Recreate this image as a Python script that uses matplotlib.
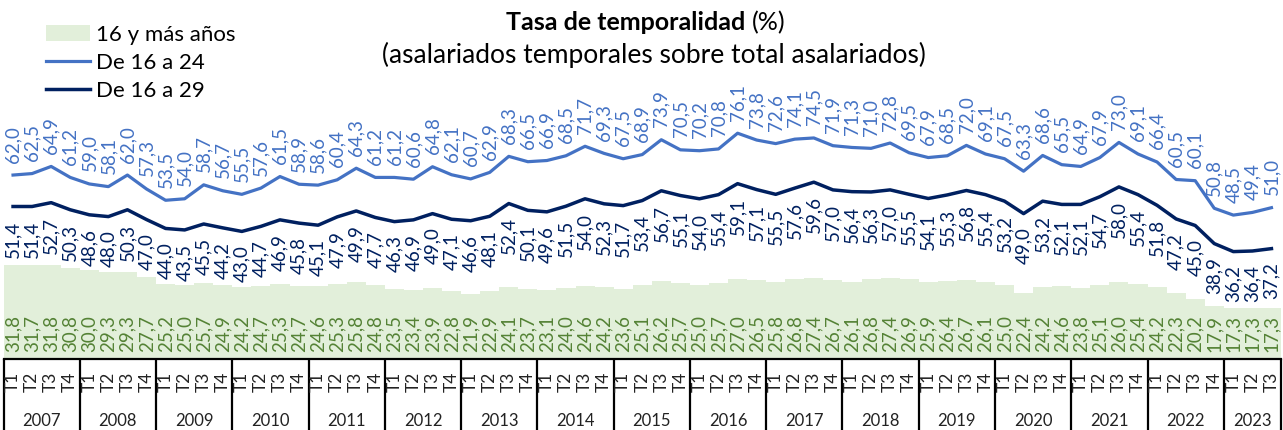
import numpy as np
import matplotlib.pyplot as plt

plt.rcParams['font.family'] = ['Lato', 'DejaVu Sans']

# datos trimestrales 2007T1 - 2023T3
years = [str(y) for y in range(2007, 2024)]
quarters = ['T1', 'T2', 'T3', 'T4'] * 16 + ['T1', 'T2', 'T3']

total_16_mas = [31.8, 31.7, 31.8, 30.8, 30.0, 29.3, 29.3, 27.7,
                25.2, 25.0, 25.7, 24.9, 24.2, 24.7, 25.3, 24.7,
                24.6, 25.3, 25.8, 24.8, 23.5, 23.4, 23.9, 22.8,
                21.9, 22.9, 24.1, 23.7, 23.1, 24.0, 24.6, 24.2,
                23.6, 25.1, 26.2, 25.7, 25.0, 25.7, 27.0, 26.5,
                25.8, 26.8, 27.4, 26.7, 26.1, 26.8, 27.4, 26.9,
                25.9, 26.4, 26.7, 26.1, 25.0, 22.4, 24.2, 24.6,
                23.8, 25.1, 26.0, 25.4, 24.2, 22.3, 20.2, 17.9,
                17.3, 17.3, 17.3]

de_16_24 = [62.0, 62.5, 64.9, 61.2, 59.0, 58.1, 62.0, 57.3,
            53.5, 54.0, 58.7, 56.7, 55.5, 57.6, 61.5, 58.9,
            58.6, 60.4, 64.3, 61.2, 61.2, 60.6, 64.8, 62.1,
            60.7, 62.9, 68.3, 66.5, 66.9, 68.5, 71.7, 69.3,
            67.5, 68.9, 73.9, 70.5, 70.2, 70.8, 76.1, 73.8,
            72.6, 74.1, 74.5, 71.9, 71.3, 71.0, 72.8, 69.5,
            67.9, 68.5, 72.0, 69.1, 67.5, 63.3, 68.6, 65.5,
            64.9, 67.9, 73.0, 69.1, 66.4, 60.5, 60.1, 50.8,
            48.5, 49.4, 51.0]

de_16_29 = [51.4, 51.4, 52.7, 50.3, 48.6, 48.0, 50.3, 47.0,
            44.0, 43.5, 45.5, 44.2, 43.0, 44.7, 46.9, 45.8,
            45.1, 47.9, 49.9, 47.7, 46.3, 46.9, 49.0, 47.1,
            46.6, 48.1, 52.4, 50.1, 49.6, 51.5, 54.0, 52.3,
            51.7, 53.4, 56.7, 55.1, 54.0, 55.4, 59.1, 57.1,
            55.5, 57.6, 59.6, 57.0, 56.4, 56.3, 57.0, 55.5,
            54.1, 55.3, 56.8, 55.4, 53.2, 49.0, 53.2, 52.1,
            52.1, 54.7, 58.0, 55.4, 51.8, 47.2, 45.0, 38.9,
            36.2, 36.4, 37.2]

GREEN_FILL = '#E2EFDA'
GREEN_TXT = '#548235'
BLUE = '#4472C4'
NAVY = '#002060'


def fmt(v):
    return f'{v:.1f}'.replace('.', ',')


W, H = 1283, 430
fig = plt.figure(figsize=(W / 100, H / 100), dpi=100)
ax = fig.add_axes([3.5 / W, 71 / H, 1277.5 / W, 359 / H])
x = np.arange(len(quarters))
ax.set_xlim(-0.5, len(quarters) - 0.5)
ax.set_ylim(0, 121)
ax.axis('off')

ax.bar(x, total_16_mas, width=1.0, color=GREEN_FILL, linewidth=0,
       label='16 y más años', zorder=1)
ax.plot(x, de_16_24, color=BLUE, lw=2.3, solid_joinstyle='round',
        label='De 16 a 24', zorder=3)
ax.plot(x, de_16_29, color=NAVY, lw=2.5, solid_joinstyle='round',
        label='De 16 a 29', zorder=3)

lab_size = 13.5
for i in x:
    ax.annotate(fmt(de_16_24[i]), (i, de_16_24[i]), xytext=(0, 9),
                textcoords='offset points', rotation=90, ha='center',
                va='bottom', color=BLUE, fontsize=lab_size)
    ax.annotate(fmt(de_16_29[i]), (i, de_16_29[i]), xytext=(0, -10),
                textcoords='offset points', rotation=90, ha='center',
                va='top', color=NAVY, fontsize=lab_size)
    ax.annotate(fmt(total_16_mas[i]), (i, 0), xytext=(0, 5),
                textcoords='offset points', rotation=90, ha='center',
                va='bottom', color=GREEN_TXT, fontsize=lab_size)

# eje de categorias: trimestres y años en cajas
xt = ax.get_xaxis_transform()
ax.plot([-0.5, len(quarters) - 0.5], [0, 0], color='black', lw=1.6,
        transform=xt, clip_on=False)
bounds = list(range(0, len(quarters), 4)) + [len(quarters)]
ax.vlines([b - 0.5 for b in bounds], -0.2, 0, color='black', lw=1.6,
          transform=xt, clip_on=False)
for i, q in enumerate(quarters):
    ax.text(i, -0.036, q, rotation=90, ha='center', va='top',
            fontsize=12.5, transform=xt, color='#222222')
for k, yr in enumerate(years):
    start = bounds[k]
    end = bounds[k + 1]
    ax.text((start + end - 1) / 2, -0.172, yr, ha='center', va='center',
            fontsize=12, transform=xt, color='#222222')

# titulo
fig.text(745 / W, 1 - 23 / H, 'Tasa de temporalidad', ha='right',
         va='center', fontsize=18, fontweight='bold')
fig.text(752 / W, 1 - 23 / H, '(%)', ha='left', va='center', fontsize=18)
fig.text(654 / W, 1 - 55 / H,
         '(asalariados temporales sobre total asalariados)',
         ha='center', va='center', fontsize=19)

handles, labels = ax.get_legend_handles_labels()
order = [2, 0, 1]
ax.legend([handles[k] for k in order], [labels[k] for k in order],
          loc='upper left', bbox_to_anchor=(46 / W, 1 - 25 / H),
          bbox_transform=fig.transFigure, frameon=False, fontsize=16,
          handlelength=2.0, handletextpad=0.25, labelspacing=0.36,
          borderaxespad=0, borderpad=0)

fig.savefig('out.png', dpi=100)
